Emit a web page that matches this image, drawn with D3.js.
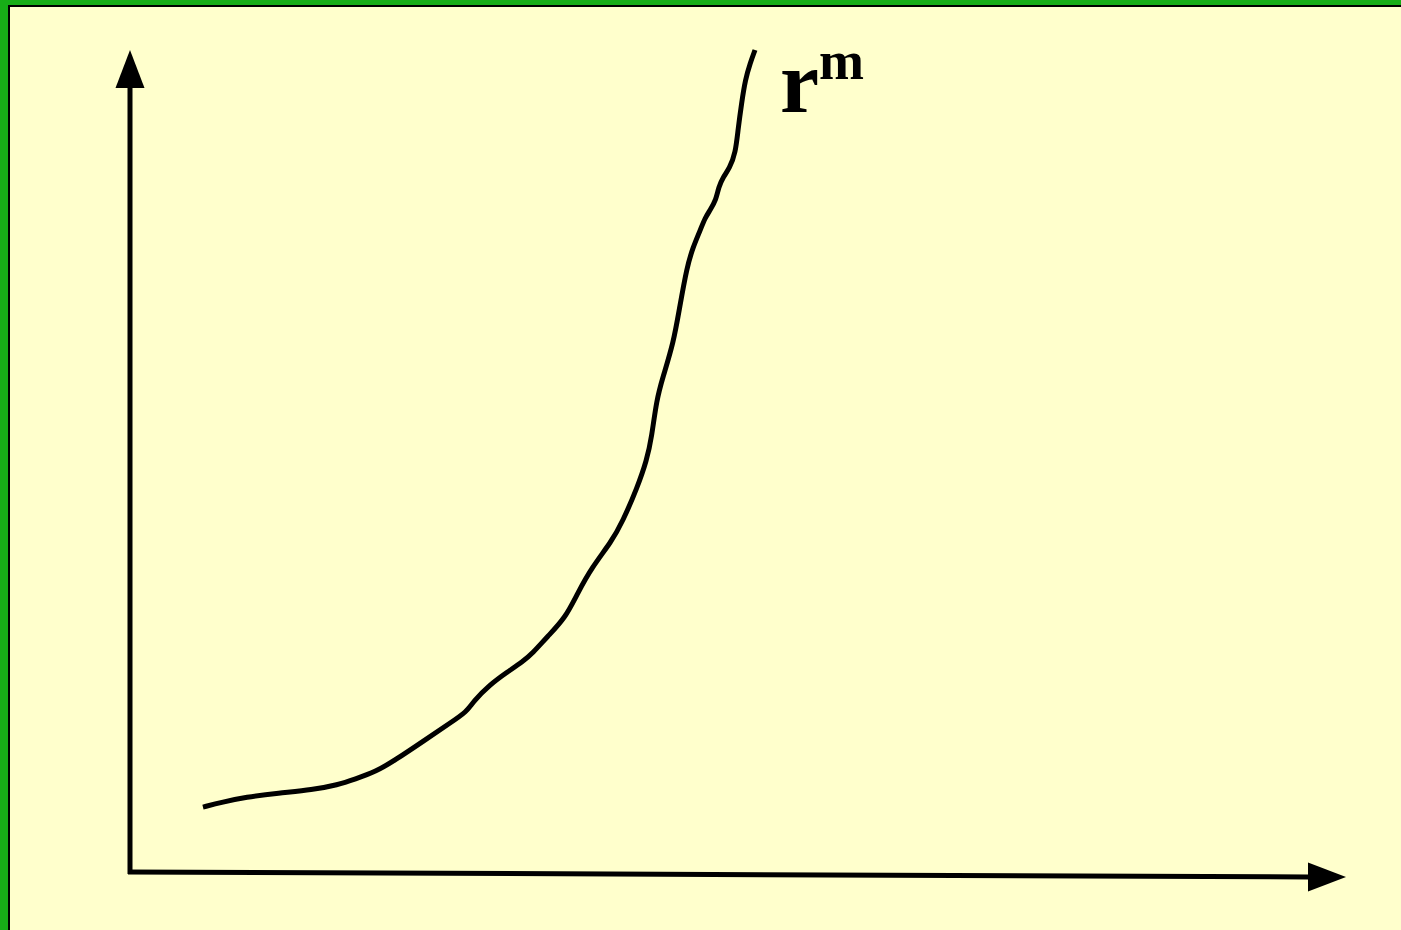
<!DOCTYPE html>
<html>
<head>
<script src="https://cdnjs.cloudflare.com/ajax/libs/d3/7.8.5/d3.min.js"></script>
<style>
  body { margin: 0; padding: 0; overflow: hidden; }
</style>
</head>
<body>
<div id="chart-area"></div>
<script>
var W = 1401, H = 930;

// curve r^m (axis units 0..100)
var curveX = [6.0, 7.6, 9.5, 12.2, 15.0, 17.1, 18.5, 20.2, 21.8, 24.3, 26.3, 27.7, 28.2, 29.6,
              31.0, 32.3, 33.1, 34.3, 35.8, 36.8, 38.0, 39.6, 40.5, 41.7, 42.5, 42.9, 43.3, 43.8,
              44.7, 45.2, 45.8, 46.3, 46.9, 47.3, 47.7, 48.2, 48.4, 48.8, 49.3, 49.8, 50.0, 50.3,
              50.6, 51.0, 51.4];
var curveY = [7.9, 8.5, 9.1, 9.6, 10.0, 10.6, 11.3, 12.2, 13.6, 16.1, 18.1, 19.5, 20.7, 22.8,
              24.3, 25.6, 26.6, 28.6, 30.9, 33.9, 37.1, 40.2, 42.6, 46.7, 50.1, 52.9, 57.4, 60.1,
              64.4, 68.7, 73.6, 76.0, 78.1, 79.6, 80.5, 81.8, 83.3, 84.6, 85.6, 87.5, 90.3, 93.6,
              96.4, 98.4, 100.0];

// axis ends: origin, top of y axis, end of x axis
var axisX = [0, 0, 100];
var axisY = [0, 100, -0.6];

var label = "r";
var labelSup = "m";

var x = d3.scaleLinear().domain([0, 100]).range([130, 1346]);
var y = d3.scaleLinear().domain([0, 100]).range([872, 50]);

var svg = d3.select("#chart-area")
            .append("svg")
            .attr("width", W)
            .attr("height", H);

// frame
svg.append("rect").attr("width", W).attr("height", H).attr("fill", "#17ad17");
svg.append("rect").attr("x", 8).attr("y", 5).attr("width", W).attr("height", H).attr("fill", "#000");
svg.append("rect").attr("x", 10).attr("y", 7).attr("width", W).attr("height", H).attr("fill", "#ffffcc");

var ox = x(axisX[0]), oy = y(axisY[0]);
var tx = x(axisX[1]), ty = y(axisY[1]);
var rx = x(axisX[2]), ry = y(axisY[2]);
var headLen = 38, headHalf = 14.5;

// y axis
svg.append("line")
   .attr("x1", ox).attr("y1", oy + 2)
   .attr("x2", tx).attr("y2", ty + headLen)
   .attr("stroke", "#000").attr("stroke-width", 5);
svg.append("polygon")
   .attr("points", [[tx, ty], [tx - headHalf, ty + headLen], [tx + headHalf, ty + headLen]].join(" "))
   .attr("fill", "#000");

// x axis
svg.append("line")
   .attr("x1", ox - 2).attr("y1", oy)
   .attr("x2", rx - headLen).attr("y2", ry)
   .attr("stroke", "#000").attr("stroke-width", 5);
svg.append("polygon")
   .attr("points", [[rx, ry], [rx - headLen, ry - headHalf], [rx - headLen, ry + headHalf]].join(" "))
   .attr("fill", "#000");

// curve
var pts = curveX.map(function(d, i) { return [d, curveY[i]]; });
var line = d3.line()
             .x(function(d) { return x(d[0]); })
             .y(function(d) { return y(d[1]); })
             .curve(d3.curveBasis);

svg.append("path")
   .datum(pts)
   .attr("d", line)
   .attr("fill", "none")
   .attr("stroke", "#000")
   .attr("stroke-width", 5);

// label
var t = svg.append("text")
           .attr("x", 780)
           .attr("y", 112)
           .attr("font-family", "'Liberation Serif', 'Times New Roman', serif")
           .attr("font-weight", "bold")
           .attr("fill", "#000");
t.append("tspan").attr("font-size", 88).text(label);
t.append("tspan").attr("font-size", 54).attr("dy", -33).text(labelSup);
</script>
</body>
</html>
